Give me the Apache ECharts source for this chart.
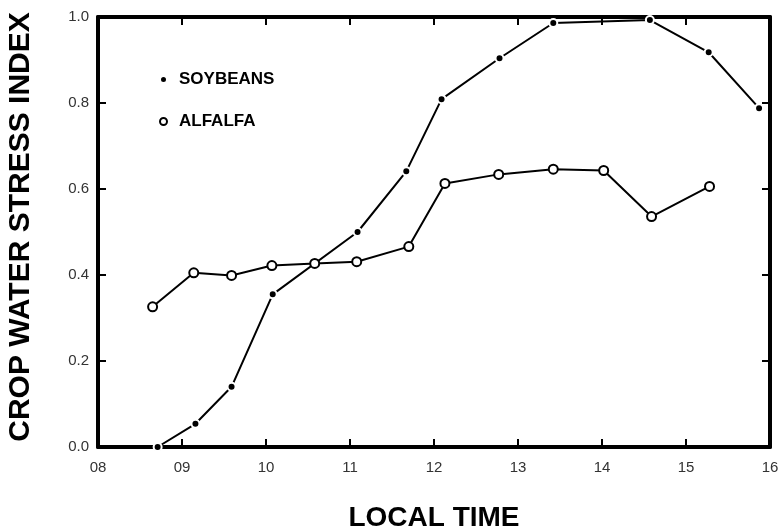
<!DOCTYPE html>
<html lang="en">
<head>
    <meta charset="UTF-8">
    <title>Crop water stress index</title>
    <script src="https://cdn.jsdelivr.net/npm/echarts@6/dist/echarts.min.js"></script>
</head>
<body style="margin:0;background:#fff">

<div id="main" style="width:782px;height:531px"></div>

<script>
    var myChart = echarts.init(document.getElementById('main'));

    // local time (decimal hours) and stress index
    var soyTime = [8.71, 9.16, 9.59, 10.08, 11.09, 11.67, 12.09, 12.78, 13.42, 14.57, 15.27, 15.87];
    var soyCwsi = [0.0, 0.054, 0.14, 0.355, 0.50, 0.641, 0.809, 0.904, 0.986, 0.993, 0.918, 0.788];

    var alfTime = [8.65, 9.14, 9.59, 10.07, 10.58, 11.08, 11.70, 12.13, 12.77, 13.42, 14.02, 14.59, 15.28];
    var alfCwsi = [0.326, 0.405, 0.399, 0.422, 0.427, 0.431, 0.466, 0.613, 0.634, 0.646, 0.643, 0.536, 0.606];

    var seriesNames = ['SOYBEANS', 'ALFALFA'];

    function pairs(xs, ys) {
        return xs.map(function (x, i) { return [x, ys[i]]; });
    }

    var frameLine = { show: true, onZero: false, lineStyle: { color: '#000', width: 4 } };
    var innerTick = { show: true, inside: true, length: 8, lineStyle: { color: '#000', width: 2 } };
    var tickFont = { color: '#333', fontSize: 15, fontFamily: 'Liberation Sans' };
    var titleFont = { color: '#000', fontWeight: 'bold', fontFamily: 'Liberation Sans' };

    var option = {
        animation: false,
        // keep the plot box where the figure has it, titles may hang near the edge
        grid: { left: 98, right: 12, top: 17, bottom: 84, outerBoundsMode: 'none', containLabel: false },
        legend: {
            orient: 'vertical',
            left: 154,
            top: 66,
            itemWidth: 7,
            itemHeight: 7,
            itemGap: 25,
            textStyle: { color: '#000', fontSize: 17, fontWeight: 'bold', fontFamily: 'Liberation Sans', padding: [0, 0, 0, 7] },
            data: [
                { name: seriesNames[0], icon: 'circle' },
                { name: seriesNames[1], icon: 'emptyCircle' }
            ]
        },
        xAxis: [{
            type: 'value', min: 8, max: 16, interval: 1,
            axisLine: frameLine, axisTick: innerTick, splitLine: { show: false },
            axisLabel: Object.assign({ margin: 13, formatter: function (v) { return (v < 10 ? '0' : '') + v; } }, tickFont),
            name: 'LOCAL TIME', nameLocation: 'middle', nameGap: 57,
            nameTextStyle: Object.assign({ fontSize: 28 }, titleFont)
        }, {
            type: 'value', min: 8, max: 16, interval: 1, position: 'top',
            axisLine: frameLine, axisTick: innerTick, axisLabel: { show: false }, splitLine: { show: false }
        }],
        yAxis: [{
            type: 'value', min: 0, max: 1, interval: 0.2,
            axisLine: frameLine, axisTick: innerTick, splitLine: { show: false },
            axisLabel: Object.assign({ margin: 9, formatter: function (v) { return v.toFixed(1); } }, tickFont),
            name: 'CROP WATER STRESS INDEX', nameLocation: 'middle', nameGap: 62,
            nameTextStyle: Object.assign({ fontSize: 30, padding: [0, 0, 0, 10] }, titleFont)
        }, {
            type: 'value', min: 0, max: 1, interval: 0.2, position: 'right',
            axisLine: frameLine, axisTick: innerTick, axisLabel: { show: false }, splitLine: { show: false }
        }],
        series: [{
            name: seriesNames[0],
            type: 'line',
            data: pairs(soyTime, soyCwsi),
            symbol: 'circle',
            symbolSize: 8,
            itemStyle: { color: '#000', borderColor: '#fff', borderWidth: 2 },
            lineStyle: { color: '#000', width: 2 },
            z: 3
        }, {
            name: seriesNames[1],
            type: 'line',
            data: pairs(alfTime, alfCwsi),
            symbol: 'emptyCircle',
            symbolSize: 9,
            itemStyle: { color: '#000', borderWidth: 1.3 },
            lineStyle: { color: '#000', width: 2 },
            z: 4
        }]
    };

    myChart.setOption(option);
</script>
</body>
</html>
